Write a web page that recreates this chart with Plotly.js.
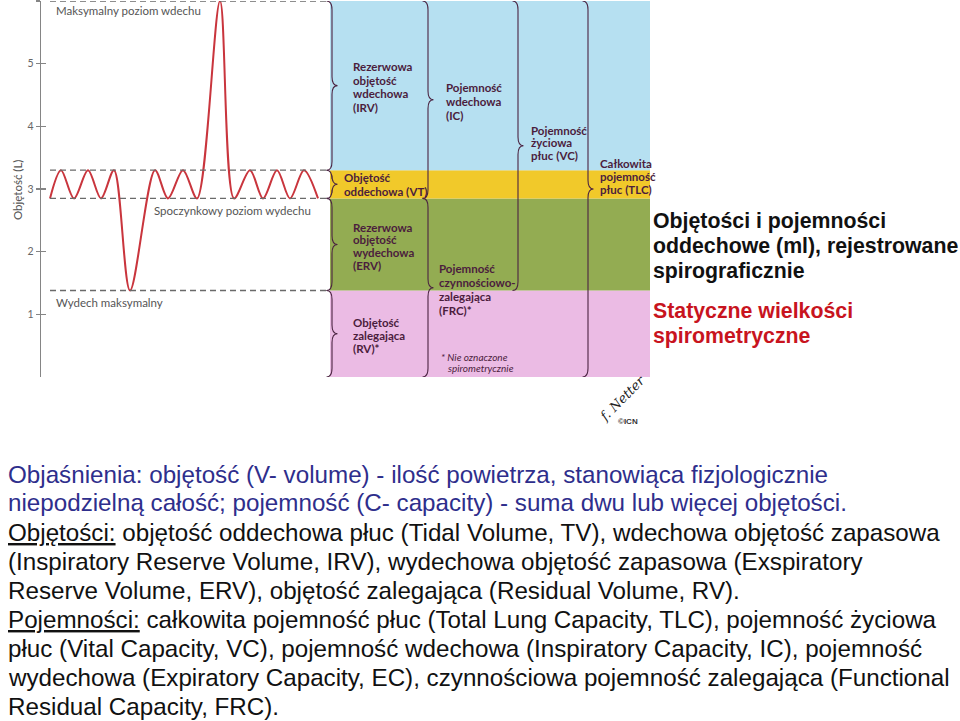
<!DOCTYPE html>
<html>
<head>
<meta charset="utf-8">
<script src="https://cdn.plot.ly/plotly-3.0.1.min.js"></script>
<style>html,body{margin:0;padding:0;background:#fff;}#chart{width:960px;height:721px;}</style>
</head>
<body>
<div id="chart"></div>
<script>
// ---------------- DATA ----------------
// Spirogram key points (time in s, volume in L)
const timeS   = [0.9, 2.0, 3.3, 4.7, 6.0, 7.3, 8.9, 11.4, 12.7, 14.2, 15.6, 17.9, 19.3, 20.9, 22.2, 23.6, 24.9, 26.3, 27.7];
const volumeL = [2.85, 3.3, 2.85, 3.3, 2.85, 3.3, 1.38, 3.3, 2.85, 3.3, 2.85, 6.0, 2.85, 3.3, 2.85, 3.3, 2.85, 3.3, 2.85];

// Lung volume levels (L): bottom, max expiration, resting expiration, end tidal inspiration, max inspiration
const levels = [0, 1.38, 2.85, 3.3, 6.0];
const bandNames  = ['RV', 'ERV', 'VT', 'IRV'];
const bandColors = ['#ebbbe4', '#93ac52', '#f1c92a', '#b6e0f1'];
const dashedLevels = [1.38, 2.85, 3.3, 6.0];

// Y axis ticks
const yTickVals = [1, 2, 3, 4, 5, 6];
const yTickText = ['1', '2', '3', '4', '5', '6'];

// Braces: [low level, high level, column]
const braceNames = ['IRV', 'VT', 'ERV', 'RV', 'IC', 'FRC', 'VC', 'TLC'];
const braceLow   = [3.3, 2.85, 1.38, 0, 2.85, 0, 1.38, 0];
const braceHigh  = [6.0, 3.3, 2.85, 1.38, 6.0, 2.85, 6.0, 6.0];
const braceCol   = [0, 0, 0, 0, 1, 1, 2, 3];

// ---------------- LAYOUT HELPERS ----------------
const W = 960, H = 721;
const px = x => x / W;
const py = y => 1 - y / H;
const plotLeft = 41, plotRight = 650, plotTop = 1, plotBottom = 377;
const xMax = (plotRight - plotLeft) / 10;  // 10 px per second
const bandX0 = 28.9, bandX1 = xMax;
const braceX = [29.1, 38.7, 47.7, 54.7];

const shapes = [];
// bands
for (let i = 0; i < bandNames.length; i++) {
  shapes.push({type: 'rect', xref: 'x', yref: 'y', x0: bandX0, x1: bandX1,
    y0: levels[i], y1: levels[i + 1], fillcolor: bandColors[i], line: {width: 0}, layer: 'below'});
}
// dashed reference lines
dashedLevels.forEach(v => shapes.push({type: 'line', xref: 'x', yref: 'y', x0: 0.9, x1: 28.9, y0: v, y1: v,
  line: {color: '#6a6a6a', width: 1.3, dash: '6px,4px'}, layer: 'above'}));
// braces "}"
const bw = 0.55, br = 0.14;
for (let i = 0; i < braceNames.length; i++) {
  const x0 = braceX[braceCol[i]];
  const yt = braceHigh[i], yb = braceLow[i], ym = (yt + yb) / 2;
  const p = `M ${x0 - bw},${yt} Q ${x0},${yt} ${x0},${yt - br} L ${x0},${ym + br} Q ${x0},${ym} ${x0 + bw},${ym} ` +
            `Q ${x0},${ym} ${x0},${ym - br} L ${x0},${yb + br} Q ${x0},${yb} ${x0 - bw},${yb}`;
  shapes.push({type: 'path', xref: 'x', yref: 'y', path: p, line: {color: '#4b2341', width: 1.1}, layer: 'above'});
}

const annotations = [];
function txt(x, y, text, font, extra) {
  annotations.push(Object.assign({xref: 'paper', yref: 'paper', x: px(x), y: py(y), text: text,
    showarrow: false, xanchor: 'left', yanchor: 'middle', align: 'left', font: font, borderpad: 0}, extra || {}));
}
function block(x, y0, dy, lines, font) {
  lines.forEach((l, i) => txt(x, y0 + i * dy, l, font));
}
const plum = {family: 'Lato, "Open Sans", sans-serif', size: 11.5, color: '#4b1d3d', weight: 'bold'};
const gray = {family: 'Lato, "Open Sans", sans-serif', size: 11.5, color: '#555'};

// chart labels
txt(55, 11, 'Maksymalny poziom wdechu', gray);
txt(153, 210, 'Spoczynkowy poziom wydechu', gray);
txt(55, 302, 'Wydech maksymalny', gray);
txt(17, 190, 'Objętość (L)', gray, {textangle: -90, xanchor: 'center'});

block(352, 67, 13.4, ['<b>Rezerwowa</b>', '<b>objętość</b>', '<b>wdechowa</b>', '<b>(IRV)</b>'], plum);
block(343, 177, 14, ['<b>Objętość</b>', '<b>oddechowa (VT)</b>'], plum);
block(352, 227, 12.7, ['<b>Rezerwowa</b>', '<b>objętość</b>', '<b>wydechowa</b>', '<b>(ERV)</b>'], plum);
block(352, 322, 13, ['<b>Objętość</b>', '<b>zalegająca</b>', '<b>(RV)*</b>'], plum);
block(445, 88, 13.5, ['<b>Pojemność</b>', '<b>wdechowa</b>', '<b>(IC)</b>'], plum);
block(438, 268, 14, ['<b>Pojemność</b>', '<b>czynnościowo-</b>', '<b>zalegająca</b>', '<b>(FRC)*</b>'], plum);
block(530, 130, 12.6, ['<b>Pojemność</b>', '<b>życiowa</b>', '<b>płuc (VC)</b>'], plum);
block(599, 163, 13.3, ['<b>Całkowita</b>', '<b>pojemność</b>', '<b>płuc (TLC)</b>'], plum);
txt(440, 357, '<i>* Nie oznaczone</i>', {family: 'Lato, sans-serif', size: 10, color: '#4b1d3d'});
txt(447, 368, '<i>spirometrycznie</i>', {family: 'Lato, sans-serif', size: 10, color: '#4b1d3d'});

// Netter signature
txt(622, 398, '<i>f. Netter</i>', {family: '"DejaVu Serif", serif', size: 13, color: '#222'}, {textangle: -45, xanchor: 'center'});
txt(628, 421, '<b>©ICN</b>', {family: 'Liberation Sans, sans-serif', size: 8, color: '#333'}, {xanchor: 'center'});

// right side text
const rb = {family: '"Liberation Sans", Arial, sans-serif', size: 21.3, color: '#111', weight: 'bold'};
const rr = {family: '"Liberation Sans", Arial, sans-serif', size: 21.3, color: '#c8141e', weight: 'bold'};
block(652, 221, 25, ['<b>Objętości i pojemności</b>', '<b>oddechowe (ml), rejestrowane</b>', '<b>spirograficznie</b>'], rb);
block(652, 311, 25, ['<b>Statyczne wielkości</b>', '<b>spirometryczne</b>'], rr);

// bottom text
const fb = {family: '"Liberation Sans", Arial, sans-serif', size: 24.2, color: '#2e2e8c'};
const fk = {family: '"Liberation Sans", Arial, sans-serif', size: 24.2, color: '#111'};
const lineY = [474, 502, 532, 561, 590, 619, 648, 677, 706];
txt(7, lineY[0], 'Objaśnienia: objętość (V- volume) - ilość powietrza, stanowiąca fizjologicznie', fb);
txt(7, lineY[1], 'niepodzielną całość; pojemność (C- capacity) - suma dwu lub więcej objętości.', fb);
txt(7, lineY[2], '<u>Objętości:</u> objętość oddechowa płuc (Tidal Volume, TV), wdechowa objętość zapasowa', fk);
txt(7, lineY[3], '(Inspiratory Reserve Volume, IRV), wydechowa objętość zapasowa (Exspiratory', fk);
txt(7, lineY[4], 'Reserve Volume, ERV), objętość zalegająca (Residual Volume, RV).', fk);
txt(7, lineY[5], '<u>Pojemności:</u> całkowita pojemność płuc (Total Lung Capacity, TLC), pojemność życiowa', fk);
txt(7, lineY[6], 'płuc (Vital Capacity, VC), pojemność wdechowa (Inspiratory Capacity, IC), pojemność', fk);
txt(7, lineY[7], 'wydechowa (Expiratory Capacity, EC), czynnościowa pojemność zalegająca (Functional', fk);
txt(7, lineY[8], 'Residual Capacity, FRC).', fk);

const traces = [
  {x: timeS, y: volumeL, type: 'scatter', mode: 'lines', line: {color: '#c9353d', width: 2, shape: 'spline', smoothing: 0.9},
   cliponaxis: false, hoverinfo: 'skip', showlegend: false},
  {x: [null], y: [null], yaxis: 'y2', type: 'scatter', mode: 'lines', showlegend: false, hoverinfo: 'skip'}
];

const yDomain = [py(plotBottom), py(plotTop)];
const layout = {
  width: W, height: H, margin: {l: 0, r: 0, t: 0, b: 0, pad: 0},
  paper_bgcolor: '#fff', plot_bgcolor: 'rgba(0,0,0,0)', showlegend: false,
  xaxis: {domain: [px(plotLeft), px(plotRight)], range: [0, xMax], visible: false, fixedrange: true},
  yaxis: {domain: yDomain, range: [0, 6], showgrid: false, zeroline: false, showline: true, linecolor: '#858585', linewidth: 1.3,
    ticks: 'outside', ticklen: 4, tickwidth: 1.2, tickcolor: '#858585', tickvals: yTickVals, ticktext: yTickText,
    tickfont: {family: 'Lato, sans-serif', size: 10.5, color: '#666'}, anchor: 'x', fixedrange: true},
  yaxis2: {domain: yDomain, range: [0, 6], overlaying: 'y', side: 'left', anchor: 'x', showgrid: false, zeroline: false,
    showline: false, ticks: 'inside', ticklen: 5, tickwidth: 1.2, tickcolor: '#858585', tickvals: [0, 1, 2, 3, 4, 5],
    showticklabels: false, fixedrange: true},
  shapes: shapes, annotations: annotations
};
Plotly.newPlot('chart', traces, layout, {displayModeBar: false, staticPlot: true});
</script>
</body>
</html>
